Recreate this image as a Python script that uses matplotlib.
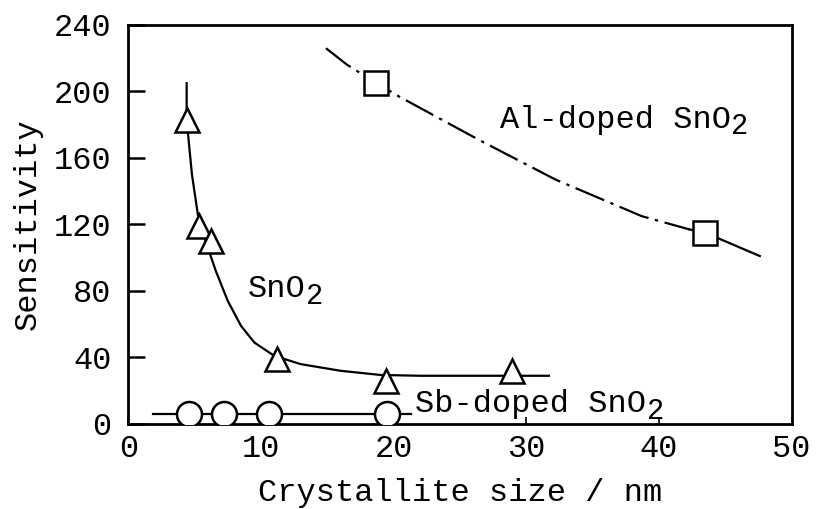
import matplotlib
matplotlib.use("Agg")
import matplotlib.pyplot as plt

# --- data ---
sno2_x = [4.4, 5.3, 6.2, 11.2, 19.4, 28.9]
sno2_y = [183, 119, 110, 39, 26, 32]
sno2_curve_x = [4.4, 4.4, 4.8, 5.3, 6.0, 6.6, 7.5, 8.5, 9.5, 11.0, 13.0, 16.0, 19.0, 22.0, 28.0, 31.7]
sno2_curve_y = [205, 183, 150, 123, 106, 92, 74, 59, 49, 41, 36, 32, 29.5, 29, 29, 29]

al_x = [18.7, 43.5]
al_y = [205, 115]
al_curve_x = [14.9, 16.5, 18.7, 20.4, 26.4, 32.2, 38.7, 42.3]
al_curve_y = [226, 216, 205, 197, 171, 147, 125, 117]
al_tail_x = [42.3, 43.5, 47.6]
al_tail_y = [117, 115, 101]

sb_x = [4.6, 7.2, 10.6, 19.5]
sb_y = [6, 6, 6, 6]
sb_line_x = [1.9, 21.3]
sb_line_y = [6, 6]

xticks = [0, 10, 20, 30, 40, 50]
yticks = [0, 40, 80, 120, 160, 200, 240]

labels = [("Al-doped SnO", 28.0, 183), ("SnO", 9.0, 81), ("Sb-doped SnO", 21.6, 12)]

FONT = "Liberation Mono"
FS = 23

fig = plt.figure(figsize=(8.17, 5.09), dpi=100)
ax = fig.add_axes([0.157, 0.167, 0.812, 0.784])

# SnO2
ax.plot(sno2_curve_x, sno2_curve_y, color="black", lw=1.6, zorder=2)
ax.plot(sno2_x, sno2_y, ls="none", marker="^", ms=17, mfc="white",
        mec="black", mew=1.8, zorder=3)

# Al-doped SnO2
ax.plot(al_curve_x, al_curve_y, color="black", lw=1.6,
        dashes=(14, 3, 1.5, 3), zorder=2)
ax.plot(al_tail_x, al_tail_y, color="black", lw=1.6, zorder=2)
ax.plot(al_x, al_y, ls="none", marker="s", ms=17, mfc="white",
        mec="black", mew=1.8, zorder=3)

# Sb-doped SnO2
ax.plot(sb_line_x, sb_line_y, color="black", lw=1.6, zorder=2)
ax.plot(sb_x, sb_y, ls="none", marker="o", ms=18, mfc="white",
        mec="black", mew=1.8, zorder=3)

ax.set_xlim(0, 50)
ax.set_ylim(0, 240)
ax.set_xticks(xticks)
ax.set_yticks(yticks)
ax.tick_params(axis="y", direction="in", length=12, width=1.8, pad=12,
               labelsize=FS)
ax.tick_params(axis="x", direction="in", length=5, width=1.2, pad=7,
               labelsize=FS)
for lab in ax.get_xticklabels() + ax.get_yticklabels():
    lab.set_family(FONT)
for s in ax.spines.values():
    s.set_linewidth(2)

ax.set_xlabel("Crystallite size / nm", fontsize=FS, family=FONT, labelpad=10)
ax.set_ylabel("Sensitivity", fontsize=FS, family=FONT, labelpad=8)

for txt, x, y in labels:
    t = ax.text(x, y, txt, fontsize=FS, family=FONT, va="center", ha="left")
    ax.annotate("2", xy=(1, 0), xycoords=t, xytext=(0.5, -4),
                textcoords="offset points", fontsize=FS * 0.9, family=FONT,
                ha="left", va="bottom")

fig.savefig("out.png", dpi=100)
